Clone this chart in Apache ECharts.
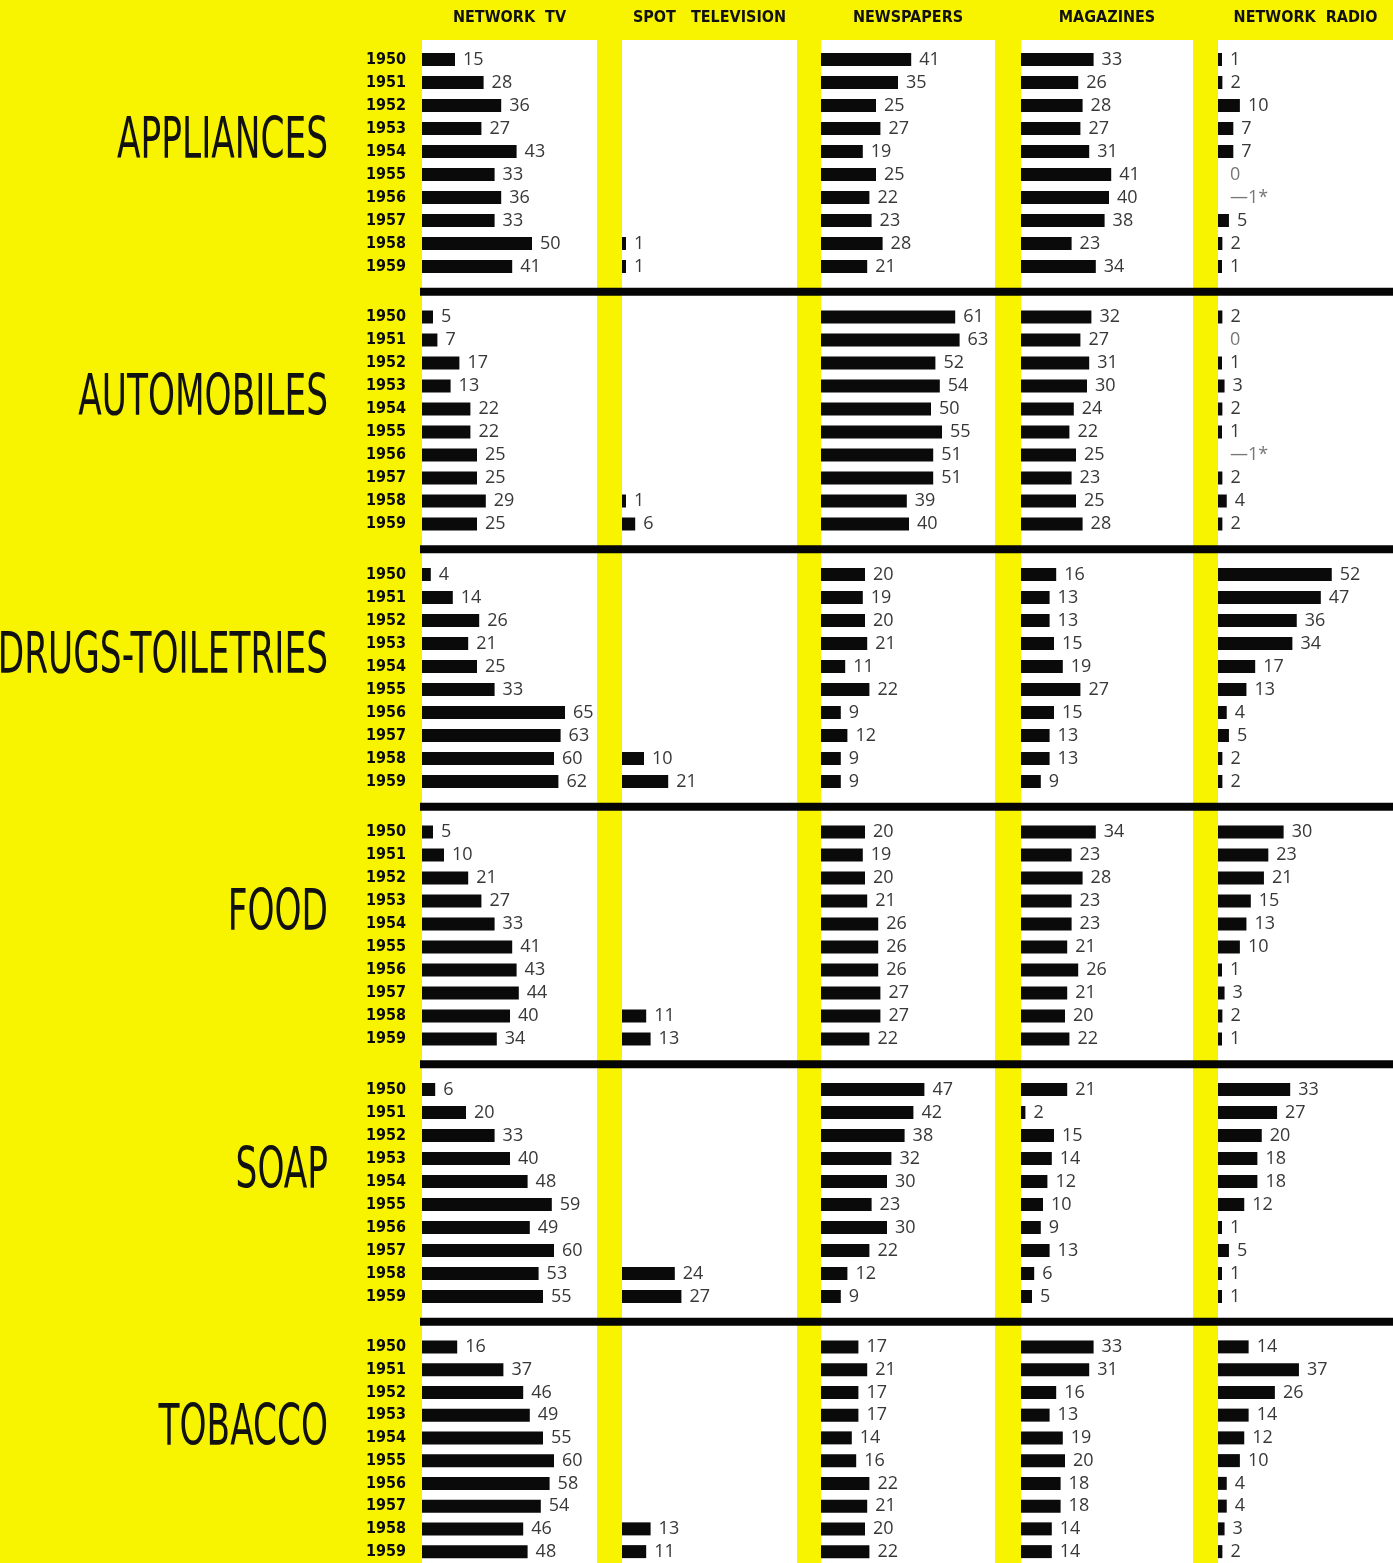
<!DOCTYPE html>
<html><head><meta charset="utf-8">
<script src="https://cdn.jsdelivr.net/npm/echarts@6/dist/echarts.min.js"></script>
<style>html,body{margin:0;padding:0;background:#F8F400;} #c{width:1393px;height:1563px;}</style>
</head><body><div id="c"></div>
<script>
// ---------- DATA ----------
const years = ['1950','1951','1952','1953','1954','1955','1956','1957','1958','1959'];
const mediaNames = ['NETWORK  TV', 'SPOT   TELEVISION', 'NEWSPAPERS', 'MAGAZINES', 'NETWORK  RADIO'];
const categoryNames = ['APPLIANCES', 'AUTOMOBILES', 'DRUGS-TOILETRIES', 'FOOD', 'SOAP', 'TOBACCO'];

// -1 marks the "—1*" entries (a loss shown without a bar)
const appliancesNetworkTV = [15, 28, 36, 27, 43, 33, 36, 33, 50, 41];
const appliancesSpotTV    = [null, null, null, null, null, null, null, null, 1, 1];
const appliancesNewspapers= [41, 35, 25, 27, 19, 25, 22, 23, 28, 21];
const appliancesMagazines = [33, 26, 28, 27, 31, 41, 40, 38, 23, 34];
const appliancesRadio     = [1, 2, 10, 7, 7, 0, -1, 5, 2, 1];

const automobilesNetworkTV = [5, 7, 17, 13, 22, 22, 25, 25, 29, 25];
const automobilesSpotTV    = [null, null, null, null, null, null, null, null, 1, 6];
const automobilesNewspapers= [61, 63, 52, 54, 50, 55, 51, 51, 39, 40];
const automobilesMagazines = [32, 27, 31, 30, 24, 22, 25, 23, 25, 28];
const automobilesRadio     = [2, 0, 1, 3, 2, 1, -1, 2, 4, 2];

const drugsNetworkTV = [4, 14, 26, 21, 25, 33, 65, 63, 60, 62];
const drugsSpotTV    = [null, null, null, null, null, null, null, null, 10, 21];
const drugsNewspapers= [20, 19, 20, 21, 11, 22, 9, 12, 9, 9];
const drugsMagazines = [16, 13, 13, 15, 19, 27, 15, 13, 13, 9];
const drugsRadio     = [52, 47, 36, 34, 17, 13, 4, 5, 2, 2];

const foodNetworkTV = [5, 10, 21, 27, 33, 41, 43, 44, 40, 34];
const foodSpotTV    = [null, null, null, null, null, null, null, null, 11, 13];
const foodNewspapers= [20, 19, 20, 21, 26, 26, 26, 27, 27, 22];
const foodMagazines = [34, 23, 28, 23, 23, 21, 26, 21, 20, 22];
const foodRadio     = [30, 23, 21, 15, 13, 10, 1, 3, 2, 1];

const soapNetworkTV = [6, 20, 33, 40, 48, 59, 49, 60, 53, 55];
const soapSpotTV    = [null, null, null, null, null, null, null, null, 24, 27];
const soapNewspapers= [47, 42, 38, 32, 30, 23, 30, 22, 12, 9];
const soapMagazines = [21, 2, 15, 14, 12, 10, 9, 13, 6, 5];
const soapRadio     = [33, 27, 20, 18, 18, 12, 1, 5, 1, 1];

const tobaccoNetworkTV = [16, 37, 46, 49, 55, 60, 58, 54, 46, 48];
const tobaccoSpotTV    = [null, null, null, null, null, null, null, null, 13, 11];
const tobaccoNewspapers= [17, 21, 17, 17, 14, 16, 22, 21, 20, 22];
const tobaccoMagazines = [33, 31, 16, 13, 19, 20, 18, 18, 14, 14];
const tobaccoRadio     = [14, 37, 26, 14, 12, 10, 4, 4, 3, 2];

const table = [
  [appliancesNetworkTV, appliancesSpotTV, appliancesNewspapers, appliancesMagazines, appliancesRadio],
  [automobilesNetworkTV, automobilesSpotTV, automobilesNewspapers, automobilesMagazines, automobilesRadio],
  [drugsNetworkTV, drugsSpotTV, drugsNewspapers, drugsMagazines, drugsRadio],
  [foodNetworkTV, foodSpotTV, foodNewspapers, foodMagazines, foodRadio],
  [soapNetworkTV, soapSpotTV, soapNewspapers, soapMagazines, soapRadio],
  [tobaccoNetworkTV, tobaccoSpotTV, tobaccoNewspapers, tobaccoMagazines, tobaccoRadio]
];

// ---------- LAYOUT ----------
const YELLOW = '#F8F400';
const panelLeft  = [422, 622, 821, 1021, 1218];
const panelRight = [597, 797, 995, 1193, 1393];
const groupStep = 257.5, firstTop = 48, gridH = 230, gridW = 176, xMax = 80;
const groupTop = g => firstTop + g * groupStep;

const condensed = "'Liberation Sans Narrow','DejaVu Sans Condensed','Arial Narrow',sans-serif";
const labelFont = "'Open Sans','Noto Sans',sans-serif";

const grids = [], xAxes = [], yAxes = [], series = [];
table.forEach((row, g) => {
  row.forEach((vals, c) => {
    const i = grids.length;
    grids.push({ left: panelLeft[c], top: groupTop(g), width: gridW, height: gridH, containLabel: false });
    xAxes.push({ gridIndex: i, type: 'value', min: 0, max: xMax, show: false });
    yAxes.push({
      gridIndex: i, type: 'category', data: years, inverse: true,
      axisLine: { show: false }, axisTick: { show: false }, splitLine: { show: false },
      axisLabel: {
        show: c === 0, interval: 0, margin: 16, fontFamily: condensed, fontWeight: 'bold',
        fontSize: 16, color: '#0a0a0a'
      }
    });
    series.push({
      type: 'bar', xAxisIndex: i, yAxisIndex: i, barWidth: 13, barMinHeight: 4,
      itemStyle: { color: '#0a0a0a' },
      label: {
        show: true, position: 'right', distance: 8,
        fontFamily: labelFont, fontSize: 18, color: '#383838'
      },
      data: vals.map(v => {
        if (v === null) return null;
        if (v <= 0) return {
          value: 0, itemStyle: { color: 'rgba(0,0,0,0)' },
          label: { formatter: v < 0 ? '—' + Math.abs(v) + '*' : String(v), color: '#777' }
        };
        return v;
      })
    });
  });
});

// ---------- DECORATION ----------
const elements = [];
panelLeft.forEach((l, c) => {
  elements.push({ type: 'rect', z: 0, shape: { x: l, y: 40, width: panelRight[c] - l, height: 1563 - 40 }, style: { fill: '#fff' } });
  elements.push({
    type: 'text', z: 5, x: (l + panelRight[c]) / 2, y: 18,
    style: { text: mediaNames[c], fontFamily: condensed, fontWeight: 'bold', fontSize: 16,
      fill: '#111', align: 'center', verticalAlign: 'middle' }
  });
});
for (let g = 0; g < 5; g++) {
  const yc = groupTop(g) + gridH + (groupStep - gridH) / 2;
  elements.push({ type: 'rect', z: 1, shape: { x: 420, y: yc - 4, width: 980, height: 8 }, style: { fill: '#050505' } });
}
categoryNames.forEach((name, g) => {
  elements.push({
    type: 'text', z: 5, x: 328, y: groupTop(g) + 95, scaleX: 0.67,
    style: { text: name, fontFamily: condensed, fontSize: 57, fill: '#111',
      align: 'right', verticalAlign: 'middle' }
  });
});

const chart = echarts.init(document.getElementById('c'), null, { renderer: 'canvas' });
chart.setOption({
  animation: false,
  backgroundColor: YELLOW,
  graphic: { elements },
  grid: grids, xAxis: xAxes, yAxis: yAxes, series
});
</script></body></html>
